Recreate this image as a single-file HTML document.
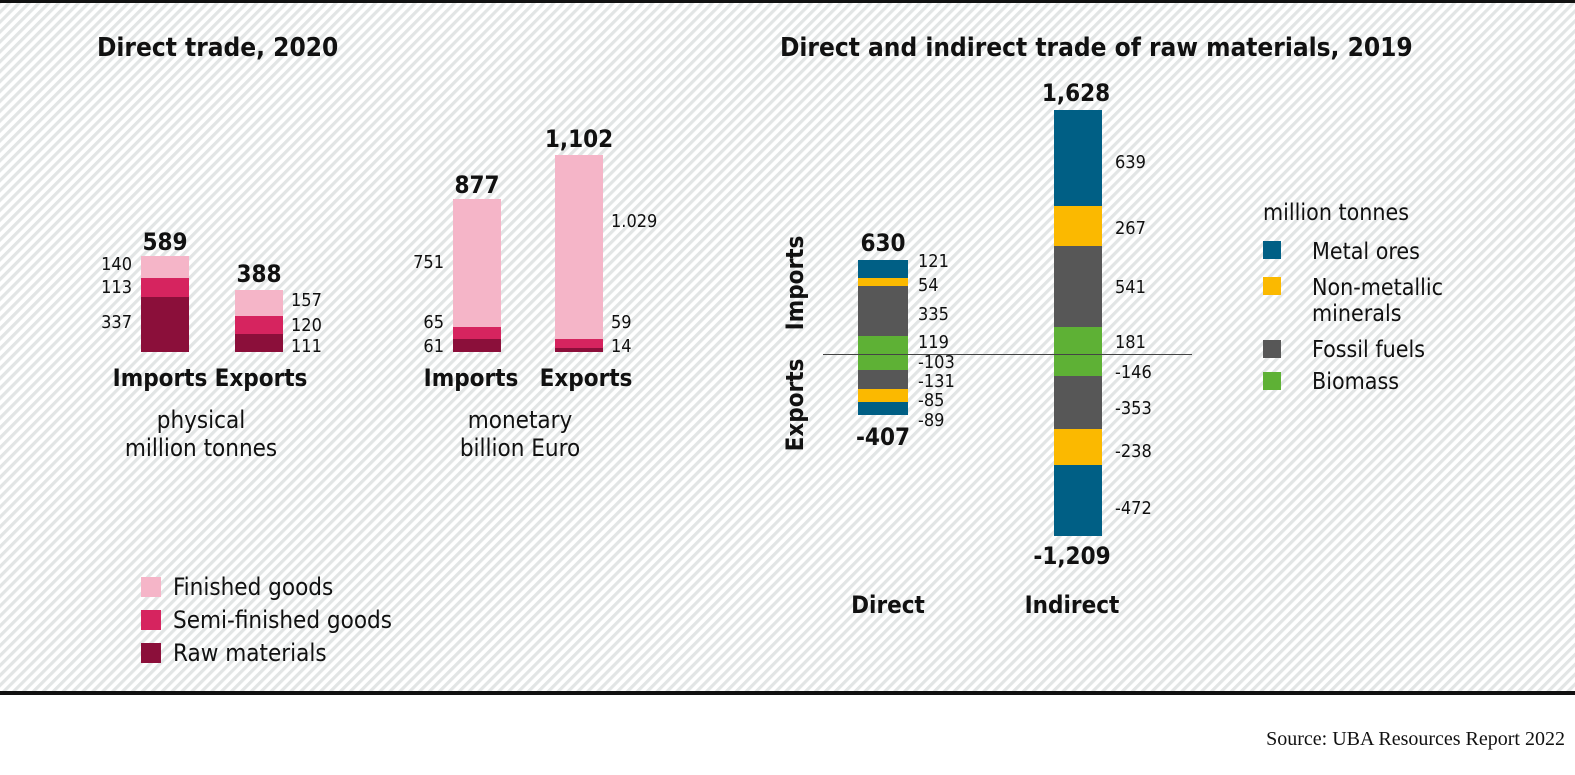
<!DOCTYPE html>
<html><head><meta charset="utf-8"><style>
html,body{margin:0;padding:0;background:#fff}
svg{display:block}
text{font-family:"DejaVu Sans Condensed","Liberation Sans",sans-serif;fill:#111}
.b{font-weight:bold}
</style></head><body>
<svg width="1575" height="775" viewBox="0 0 1575 775" xmlns="http://www.w3.org/2000/svg">
<defs>
<pattern id="h" width="7" height="7" patternUnits="userSpaceOnUse" patternTransform="rotate(45)">
<rect width="7" height="7" fill="#fff"/><rect width="3.2" height="7" fill="#e2e5e5"/>
</pattern>
</defs>
<rect x="0" y="0" width="1575" height="692" fill="url(#h)"/>
<rect x="0" y="0" width="1575" height="3" fill="#111"/>
<rect x="0" y="691" width="1575" height="4" fill="#111"/>
<text x="1565" y="745" text-anchor="end" font-size="20" style="font-family:'Liberation Serif',serif">Source: UBA Resources Report 2022</text>

<text x="97" y="56" class="b" font-size="26">Direct trade, 2020</text>
<text x="780" y="56" class="b" font-size="26">Direct and indirect trade of raw materials, 2019</text>

<!-- physical -->
<rect x="141" y="297" width="48" height="55" fill="#8b0f3a"/>
<rect x="141" y="278" width="48" height="19" fill="#d6245f"/>
<rect x="141" y="256" width="48" height="22" fill="#f5b5c8"/>
<rect x="235" y="334" width="48" height="18" fill="#8b0f3a"/>
<rect x="235" y="316" width="48" height="18" fill="#d6245f"/>
<rect x="235" y="290" width="48" height="26" fill="#f5b5c8"/>
<g font-size="18">
<text x="132" y="270" text-anchor="end">140</text>
<text x="132" y="293" text-anchor="end">113</text>
<text x="132" y="328" text-anchor="end">337</text>
<text x="291" y="306">157</text>
<text x="291" y="331">120</text>
<text x="291" y="352">111</text>
</g>
<text x="165" y="250" text-anchor="middle" class="b" font-size="24">589</text>
<text x="259" y="282" text-anchor="middle" class="b" font-size="24">388</text>
<text x="160" y="386" text-anchor="middle" class="b" font-size="24">Imports</text>
<text x="261" y="386" text-anchor="middle" class="b" font-size="24">Exports</text>
<text x="201" y="428" text-anchor="middle" font-size="24">physical</text>
<text x="201" y="456" text-anchor="middle" font-size="24">million tonnes</text>

<!-- monetary -->
<rect x="453" y="339" width="48" height="13" fill="#8b0f3a"/>
<rect x="453" y="327" width="48" height="12" fill="#d6245f"/>
<rect x="453" y="199" width="48" height="128" fill="#f5b5c8"/>
<rect x="555" y="348" width="48" height="4" fill="#8b0f3a"/>
<rect x="555" y="339" width="48" height="9" fill="#d6245f"/>
<rect x="555" y="155" width="48" height="184" fill="#f5b5c8"/>
<g font-size="18">
<text x="444" y="268" text-anchor="end">751</text>
<text x="444" y="328" text-anchor="end">65</text>
<text x="444" y="352" text-anchor="end">61</text>
<text x="611" y="227">1.029</text>
<text x="611" y="328">59</text>
<text x="611" y="352">14</text>
</g>
<text x="477" y="193" text-anchor="middle" class="b" font-size="24">877</text>
<text x="579" y="147" text-anchor="middle" class="b" font-size="24">1,102</text>
<text x="471" y="386" text-anchor="middle" class="b" font-size="24">Imports</text>
<text x="586" y="386" text-anchor="middle" class="b" font-size="24">Exports</text>
<text x="520" y="428" text-anchor="middle" font-size="24">monetary</text>
<text x="520" y="456" text-anchor="middle" font-size="24">billion Euro</text>

<!-- left legend -->
<rect x="141" y="577" width="20" height="20" fill="#f5b5c8"/>
<rect x="141" y="610" width="20" height="20" fill="#d6245f"/>
<rect x="141" y="643" width="20" height="20" fill="#8b0f3a"/>
<g font-size="24">
<text x="173" y="595">Finished goods</text>
<text x="173" y="628">Semi-finished goods</text>
<text x="173" y="661">Raw materials</text>
</g>

<!-- right: direct -->
<rect x="858" y="260" width="50" height="18" fill="#005f85"/>
<rect x="858" y="278" width="50" height="8" fill="#fbb900"/>
<rect x="858" y="286" width="50" height="50" fill="#575757"/>
<rect x="858" y="336" width="50" height="18" fill="#5eb135"/>
<rect x="858" y="354" width="50" height="16" fill="#5eb135"/>
<rect x="858" y="370" width="50" height="19" fill="#575757"/>
<rect x="858" y="389" width="50" height="13" fill="#fbb900"/>
<rect x="858" y="402" width="50" height="13" fill="#005f85"/>
<!-- indirect -->
<rect x="1054" y="110" width="48" height="96" fill="#005f85"/>
<rect x="1054" y="206" width="48" height="40" fill="#fbb900"/>
<rect x="1054" y="246" width="48" height="81" fill="#575757"/>
<rect x="1054" y="327" width="48" height="27" fill="#5eb135"/>
<rect x="1054" y="354" width="48" height="22" fill="#5eb135"/>
<rect x="1054" y="376" width="48" height="53" fill="#575757"/>
<rect x="1054" y="429" width="48" height="36" fill="#fbb900"/>
<rect x="1054" y="465" width="48" height="71" fill="#005f85"/>
<line x1="823" y1="354.5" x2="1192" y2="354.5" stroke="#444" stroke-width="1"/>
<g font-size="18">
<text x="918" y="267">121</text>
<text x="918" y="291">54</text>
<text x="918" y="320">335</text>
<text x="918" y="348">119</text>
<text x="918" y="368">-103</text>
<text x="918" y="387">-131</text>
<text x="918" y="406">-85</text>
<text x="918" y="426">-89</text>
<text x="1115" y="168">639</text>
<text x="1115" y="234">267</text>
<text x="1115" y="293">541</text>
<text x="1115" y="348">181</text>
<text x="1115" y="378">-146</text>
<text x="1115" y="414">-353</text>
<text x="1115" y="457">-238</text>
<text x="1115" y="514">-472</text>
</g>
<text x="883" y="251" text-anchor="middle" class="b" font-size="24">630</text>
<text x="883" y="445" text-anchor="middle" class="b" font-size="24">-407</text>
<text x="1076" y="101" text-anchor="middle" class="b" font-size="24">1,628</text>
<text x="1072" y="564" text-anchor="middle" class="b" font-size="24">-1,209</text>
<text transform="translate(803,283) rotate(-90)" text-anchor="middle" class="b" font-size="24">Imports</text>
<text transform="translate(803,405) rotate(-90)" text-anchor="middle" class="b" font-size="24">Exports</text>
<text x="888" y="613" text-anchor="middle" class="b" font-size="24">Direct</text>
<text x="1072" y="613" text-anchor="middle" class="b" font-size="24">Indirect</text>

<!-- right legend -->
<text x="1263" y="220" font-size="23">million tonnes</text>
<rect x="1263" y="241" width="18" height="18" fill="#005f85"/>
<rect x="1263" y="277" width="18" height="18" fill="#fbb900"/>
<rect x="1263" y="340" width="18" height="18" fill="#575757"/>
<rect x="1263" y="372" width="18" height="18" fill="#5eb135"/>
<g font-size="23">
<text x="1312" y="259">Metal ores</text>
<text x="1312" y="295">Non-metallic</text>
<text x="1312" y="321">minerals</text>
<text x="1312" y="357">Fossil fuels</text>
<text x="1312" y="389">Biomass</text>
</g>
</svg>
</body></html>
